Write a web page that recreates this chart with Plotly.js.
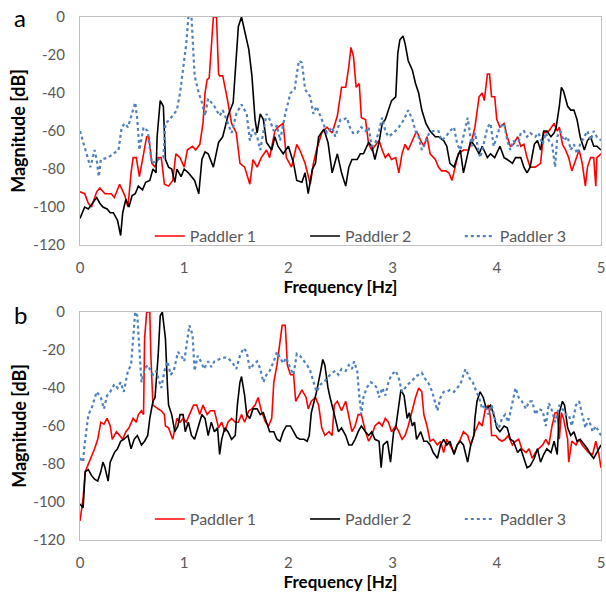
<!DOCTYPE html>
<html>
<head>
<meta charset="utf-8">
<script src="https://cdn.plot.ly/plotly-3.0.1.min.js"></script>
<style>html,body{margin:0;padding:0;background:#fff;}#chart{width:606px;height:592px;}</style>
</head>
<body>
<div id="chart"></div>
<script>
// ---------- Panel a ----------
var aP1x = [0,0.045,0.08,0.11,0.16,0.19,0.24,0.3,0.33,0.38,0.43,0.46,0.49,0.51,0.54,0.57,0.6,0.64,0.66,0.69,0.72,0.75,0.78,0.81,0.85,0.89,0.92,0.96,1.0,1.03,1.08,1.11,1.15,1.18,1.2,1.22,1.24,1.26,1.28,1.31,1.33,1.34,1.37,1.41,1.455,1.5,1.535,1.58,1.63,1.66,1.7,1.74,1.79,1.82,1.87,1.9,1.95,1.98,2.03,2.08,2.11,2.16,2.21,2.24,2.27,2.32,2.37,2.42,2.47,2.51,2.55,2.58,2.6,2.625,2.65,2.68,2.7,2.74,2.77,2.8,2.83,2.87,2.9,2.93,2.96,2.99,3.03,3.06,3.09,3.12,3.15,3.19,3.23,3.27,3.3,3.33,3.36,3.41,3.44,3.47,3.51,3.54,3.57,3.6,3.63,3.68,3.73,3.76,3.79,3.83,3.86,3.88,3.91,3.93,3.95,3.98,4.0,4.03,4.07,4.1,4.13,4.16,4.2,4.23,4.26,4.29,4.32,4.37,4.42,4.45,4.5,4.55,4.58,4.6,4.63,4.66,4.69,4.72,4.76,4.79,4.82,4.85,4.87,4.9,4.93,4.95,4.96,5.0];
var aP1y = [-92,-93,-98,-100,-92,-90,-93,-93,-95,-88,-94,-100,-82,-74,-74,-84,-75,-63,-63,-77,-79,-74,-74,-88,-89,-86,-72,-74,-79,-70,-68,-70,-67,-56,-40,-33,-32,-15,0,0,-30,-31,-31,-42,-56,-61,-77,-79,-88,-75,-79,-74,-70,-74,-60,-58,-56,-74,-79,-67,-70,-77,-88,-77,-70,-61,-58,-61,-52,-37,-37,-26,-16,-21,-37,-35,-53,-54,-67,-70,-68,-65,-70,-74,-72,-75,-74,-82,-72,-67,-70,-65,-60,-65,-68,-63,-72,-75,-79,-81,-81,-82,-86,-79,-72,-70,-70,-65,-58,-42,-40,-44,-30,-30,-42,-42,-54,-58,-56,-63,-68,-67,-63,-68,-67,-74,-79,-79,-77,-61,-60,-56,-60,-58,-67,-70,-74,-81,-74,-70,-77,-89,-79,-74,-74,-89,-74,-72];

var aP2x = [0,0.045,0.08,0.12,0.16,0.19,0.22,0.26,0.29,0.32,0.36,0.39,0.41,0.44,0.47,0.5,0.53,0.56,0.6,0.63,0.67,0.7,0.73,0.74,0.77,0.8,0.82,0.85,0.88,0.91,0.93,0.97,1.0,1.04,1.07,1.1,1.14,1.17,1.2,1.23,1.28,1.33,1.37,1.42,1.47,1.5,1.52,1.55,1.58,1.62,1.65,1.68,1.7,1.73,1.76,1.79,1.84,1.87,1.9,1.95,2.0,2.05,2.08,2.13,2.16,2.19,2.23,2.26,2.29,2.34,2.38,2.42,2.47,2.51,2.55,2.58,2.61,2.66,2.69,2.72,2.77,2.8,2.83,2.87,2.9,2.93,2.96,2.99,3.03,3.05,3.07,3.1,3.12,3.15,3.19,3.22,3.25,3.28,3.32,3.36,3.41,3.44,3.49,3.52,3.55,3.59,3.62,3.65,3.68,3.72,3.75,3.79,3.83,3.86,3.91,3.94,3.98,4.03,4.07,4.1,4.15,4.18,4.23,4.26,4.29,4.32,4.36,4.39,4.42,4.45,4.48,4.52,4.55,4.57,4.6,4.62,4.64,4.68,4.71,4.74,4.77,4.8,4.84,4.87,4.9,4.93,4.96,5.0];
var aP2y = [-106,-100,-101,-98,-95,-98,-100,-101,-103,-103,-107,-115,-103,-96,-100,-94,-93,-89,-91,-87,-86,-80,-82,-63,-44,-47,-75,-79,-80,-87,-80,-84,-80,-82,-84,-86,-93,-75,-71,-72,-79,-66,-63,-52,-45,-20,-5,0,-7,-17,-31,-54,-61,-51,-54,-66,-70,-63,-68,-72,-68,-77,-86,-87,-82,-93,-80,-77,-63,-59,-66,-82,-72,-82,-89,-79,-75,-75,-72,-72,-66,-68,-75,-66,-56,-54,-49,-44,-42,-19,-12,-10,-14,-23,-28,-35,-40,-49,-56,-60,-63,-63,-65,-68,-77,-79,-74,-70,-82,-72,-65,-68,-72,-68,-74,-72,-74,-68,-74,-75,-77,-74,-74,-79,-82,-79,-67,-65,-70,-60,-60,-63,-61,-58,-47,-37,-39,-47,-49,-49,-54,-63,-70,-65,-63,-68,-68,-70];

var aP3x = [0,0.06,0.1,0.14,0.16,0.18,0.2,0.27,0.32,0.37,0.4,0.43,0.46,0.51,0.53,0.55,0.57,0.61,0.65,0.69,0.75,0.8,0.82,0.86,0.93,0.96,0.99,1.02,1.04,1.07,1.1,1.14,1.17,1.2,1.23,1.29,1.34,1.37,1.42,1.455,1.5,1.55,1.6,1.63,1.66,1.7,1.73,1.79,1.82,1.86,1.89,1.92,1.97,2.02,2.06,2.1,2.13,2.16,2.21,2.24,2.27,2.32,2.37,2.42,2.45,2.5,2.53,2.56,2.59,2.62,2.66,2.7,2.74,2.77,2.8,2.83,2.87,2.9,2.93,2.96,3.01,3.06,3.11,3.15,3.19,3.22,3.25,3.28,3.31,3.35,3.39,3.44,3.47,3.51,3.55,3.59,3.62,3.65,3.68,3.72,3.76,3.79,3.84,3.87,3.91,3.94,3.97,4.0,4.03,4.07,4.1,4.13,4.16,4.2,4.23,4.26,4.29,4.32,4.37,4.4,4.44,4.47,4.5,4.53,4.56,4.58,4.61,4.64,4.68,4.71,4.74,4.77,4.8,4.84,4.87,4.9,4.93,4.96,5.0];
var aP3y = [-60,-72,-79,-70,-75,-84,-75,-74,-72,-70,-58,-56,-58,-49,-45,-54,-70,-58,-60,-77,-75,-74,-56,-54,-49,-40,-28,-14,0,0,-31,-40,-45,-52,-43,-47,-52,-49,-56,-61,-51,-46,-51,-65,-59,-63,-70,-51,-54,-60,-57,-65,-51,-40,-38,-23,-24,-38,-42,-51,-47,-54,-61,-58,-63,-54,-54,-53,-58,-61,-61,-58,-60,-58,-68,-67,-60,-53,-60,-63,-61,-58,-54,-49,-54,-60,-63,-70,-67,-61,-60,-60,-65,-63,-60,-58,-67,-70,-63,-53,-68,-61,-74,-68,-58,-56,-68,-63,-58,-56,-65,-70,-65,-68,-61,-60,-63,-61,-63,-61,-67,-61,-65,-67,-79,-63,-60,-65,-63,-70,-67,-72,-67,-63,-60,-65,-60,-63,-65];

// ---------- Panel b ----------
var bP1x = [0,0.03,0.05,0.08,0.11,0.14,0.17,0.2,0.23,0.26,0.29,0.31,0.35,0.38,0.41,0.44,0.47,0.51,0.54,0.56,0.59,0.61,0.62,0.64,0.67,0.68,0.7,0.75,0.78,0.81,0.82,0.85,0.89,0.93,0.96,0.99,1.02,1.05,1.09,1.12,1.15,1.18,1.22,1.25,1.29,1.33,1.36,1.39,1.42,1.455,1.49,1.52,1.55,1.58,1.62,1.65,1.68,1.71,1.74,1.78,1.81,1.84,1.86,1.89,1.92,1.94,1.97,1.99,2.02,2.05,2.07,2.1,2.13,2.17,2.19,2.22,2.26,2.29,2.32,2.35,2.39,2.42,2.44,2.47,2.51,2.55,2.58,2.61,2.64,2.67,2.7,2.74,2.77,2.8,2.83,2.87,2.9,2.93,2.96,2.99,3.03,3.06,3.09,3.12,3.15,3.19,3.22,3.25,3.28,3.3,3.33,3.36,3.39,3.43,3.46,3.49,3.52,3.55,3.59,3.62,3.65,3.68,3.72,3.75,3.79,3.83,3.86,3.89,3.92,3.94,3.95,3.99,4.02,4.05,4.08,4.11,4.15,4.18,4.21,4.24,4.28,4.31,4.34,4.37,4.4,4.44,4.47,4.5,4.53,4.56,4.58,4.6,4.62,4.64,4.68,4.69,4.72,4.76,4.79,4.82,4.85,4.88,4.92,4.95,4.98,5.0];
var bP1y = [-110,-98,-84,-80,-77,-72,-67,-58,-59,-56,-60,-67,-63,-65,-67,-63,-61,-56,-58,-54,-52,-54,-14,0,0,-23,-49,-51,-52,-54,-60,-61,-67,-56,-58,-56,-58,-54,-49,-49,-54,-49,-54,-52,-52,-61,-58,-63,-58,-56,-58,-58,-54,-58,-52,-51,-49,-45,-52,-58,-60,-56,-37,-28,-17,-7,-7,-28,-33,-33,-47,-44,-41,-45,-51,-47,-45,-49,-61,-65,-63,-65,-49,-47,-52,-47,-56,-63,-60,-54,-54,-63,-68,-65,-60,-58,-60,-56,-58,-63,-60,-63,-67,-65,-60,-51,-45,-40,-42,-54,-60,-68,-67,-70,-68,-74,-67,-70,-74,-70,-67,-63,-65,-70,-63,-58,-60,-51,-49,-56,-65,-65,-67,-68,-67,-65,-70,-68,-67,-72,-74,-72,-77,-74,-72,-70,-67,-70,-60,-53,-53,-67,-53,-56,-67,-79,-68,-70,-67,-70,-72,-74,-75,-68,-75,-82];

var bP2x = [0,0.03,0.05,0.08,0.11,0.14,0.17,0.2,0.22,0.24,0.27,0.29,0.33,0.36,0.39,0.42,0.46,0.49,0.52,0.55,0.59,0.62,0.65,0.67,0.7,0.72,0.75,0.77,0.79,0.82,0.84,0.85,0.88,0.91,0.94,0.96,0.99,1.01,1.04,1.07,1.1,1.14,1.17,1.2,1.23,1.26,1.29,1.32,1.34,1.36,1.39,1.42,1.455,1.49,1.51,1.535,1.55,1.58,1.6,1.63,1.66,1.7,1.73,1.76,1.79,1.82,1.86,1.89,1.92,1.95,1.98,2.02,2.05,2.08,2.11,2.15,2.18,2.2,2.22,2.25,2.27,2.31,2.33,2.35,2.38,2.4,2.42,2.45,2.48,2.51,2.55,2.58,2.61,2.64,2.67,2.7,2.74,2.77,2.8,2.83,2.87,2.89,2.91,2.95,2.98,3.01,3.03,3.06,3.08,3.11,3.14,3.16,3.19,3.21,3.23,3.27,3.3,3.33,3.36,3.39,3.43,3.46,3.49,3.52,3.55,3.59,3.62,3.65,3.68,3.72,3.75,3.78,3.79,3.81,3.84,3.87,3.9,3.94,3.97,4.0,4.03,4.07,4.1,4.13,4.16,4.2,4.23,4.26,4.29,4.32,4.36,4.39,4.42,4.45,4.48,4.52,4.55,4.58,4.6,4.63,4.65,4.68,4.71,4.74,4.77,4.8,4.84,4.87,4.9,4.93,4.96,5.0];
var bP2y = [-101,-103,-84,-83,-86,-88,-89,-84,-79,-82,-89,-79,-74,-72,-68,-67,-65,-72,-67,-65,-70,-68,-65,-56,-47,-45,-23,-2,0,-14,-40,-49,-54,-63,-60,-54,-54,-63,-58,-65,-67,-60,-54,-56,-65,-58,-63,-61,-75,-67,-61,-63,-67,-65,-49,-37,-34,-44,-54,-56,-51,-51,-54,-53,-58,-63,-63,-67,-68,-63,-60,-60,-63,-66,-67,-67,-68,-65,-53,-47,-42,-31,-25,-28,-40,-45,-49,-56,-63,-61,-65,-70,-70,-67,-63,-60,-63,-65,-63,-67,-68,-82,-70,-68,-79,-63,-61,-49,-41,-44,-56,-53,-60,-58,-67,-63,-68,-68,-70,-74,-77,-70,-67,-70,-68,-75,-70,-68,-70,-79,-70,-65,-56,-47,-42,-45,-51,-49,-54,-61,-63,-60,-61,-67,-68,-74,-72,-77,-82,-81,-77,-72,-79,-75,-72,-74,-68,-75,-53,-47,-49,-61,-65,-63,-68,-67,-70,-72,-75,-77,-74,-70];

var bP3x = [0,0.03,0.04,0.06,0.08,0.11,0.14,0.16,0.2,0.23,0.26,0.29,0.33,0.36,0.39,0.42,0.46,0.49,0.51,0.53,0.55,0.57,0.59,0.62,0.65,0.67,0.7,0.73,0.78,0.81,0.84,0.87,0.9,0.94,0.97,1.0,1.03,1.05,1.08,1.1,1.13,1.16,1.19,1.23,1.26,1.29,1.33,1.37,1.41,1.455,1.5,1.535,1.57,1.6,1.63,1.66,1.7,1.73,1.76,1.79,1.82,1.86,1.89,1.92,1.95,1.98,2.02,2.05,2.08,2.11,2.15,2.18,2.21,2.24,2.27,2.31,2.34,2.37,2.4,2.45,2.48,2.51,2.55,2.58,2.61,2.63,2.66,2.68,2.7,2.72,2.75,2.79,2.82,2.85,2.87,2.9,2.93,2.96,2.99,3.03,3.06,3.09,3.12,3.15,3.19,3.22,3.25,3.28,3.31,3.35,3.38,3.41,3.43,3.46,3.49,3.52,3.55,3.59,3.62,3.65,3.68,3.7,3.74,3.77,3.79,3.83,3.86,3.89,3.92,3.95,3.99,4.02,4.05,4.08,4.11,4.15,4.18,4.21,4.24,4.28,4.31,4.34,4.37,4.4,4.44,4.47,4.5,4.53,4.56,4.6,4.63,4.66,4.69,4.72,4.76,4.79,4.82,4.85,4.88,4.92,4.95,4.98,5.0];
var bP3y = [-77,-79,-72,-63,-54,-51,-45,-42,-45,-51,-44,-42,-38,-40,-37,-42,-31,-28,-14,0,-2,-19,-37,-30,-28,-30,-33,-31,-40,-31,-26,-33,-31,-21,-23,-26,-14,-7,-12,-31,-23,-26,-30,-26,-29,-26,-25,-24,-24,-26,-30,-23,-19,-21,-30,-28,-26,-30,-37,-33,-31,-26,-21,-24,-27,-24,-30,-33,-22,-23,-26,-28,-31,-37,-42,-38,-37,-35,-33,-31,-33,-30,-31,-28,-30,-26,-31,-44,-54,-45,-40,-37,-38,-40,-45,-40,-44,-37,-33,-31,-35,-42,-40,-38,-36,-34,-33,-32,-35,-38,-42,-49,-52,-45,-42,-42,-41,-42,-40,-38,-33,-30,-35,-37,-40,-45,-51,-49,-54,-49,-58,-61,-56,-54,-58,-47,-40,-45,-47,-51,-47,-47,-54,-51,-52,-60,-48,-52,-58,-49,-51,-54,-54,-60,-49,-47,-54,-61,-56,-63,-60,-63,-65];

var seriesNames = ['Paddler 1','Paddler 2','Paddler 3'];
var xTicks = [0,1,2,3,4,5];
var yTicks = [-120,-100,-80,-60,-40,-20,0];

var colors = ['#ff0000','#000000','#4f81bd'];
var dashes = ['solid','solid','dot'];
var widths = [1.6,1.6,2.2];

function mk(x,y,i,xa,ya,leg){
  return {x:x,y:y,type:'scatter',mode:'lines',name:seriesNames[i],
    line:{color:colors[i],width:widths[i],dash:dashes[i]},
    xaxis:xa,yaxis:ya,legend:leg,hoverinfo:'skip'};
}
var data = [
  mk(aP1x,aP1y,0,'x','y','legend'),
  mk(aP2x,aP2y,1,'x','y','legend2'),
  mk(aP3x,aP3y,2,'x','y','legend3'),
  mk(bP1x,bP1y,0,'x2','y2','legend4'),
  mk(bP2x,bP2y,1,'x2','y2','legend5'),
  mk(bP3x,bP3y,2,'x2','y2','legend6')
];

var FONT = 'Lato, "Open Sans", sans-serif';
function xax(anchor){
  return {anchor:anchor, range:[0,5], tickvals:xTicks, ticktext:xTicks.map(String),
    showgrid:false, zeroline:false, showline:true, mirror:true, linecolor:'#bfbfbf', linewidth:1,
    ticks:'outside', ticklen:9, tickcolor:'rgba(0,0,0,0)',
    tickfont:{family:FONT,size:15,color:'#595959'},
    title:{text:'<b>Frequency [Hz]</b>', font:{family:FONT,size:17,color:'#000'}, standoff:3}};
}
function yax(anchor,dom){
  return {anchor:anchor, domain:dom, range:[-120,0], tickvals:yTicks, ticktext:yTicks.map(String),
    showgrid:false, zeroline:false, showline:true, mirror:true, linecolor:'#bfbfbf', linewidth:1,
    ticks:'outside', ticklen:11, tickcolor:'rgba(0,0,0,0)',
    tickfont:{family:FONT,size:15,color:'#595959'},
    title:{text:'<b>Magnitude [dB]</b>', font:{family:FONT,size:18,color:'#000'}, standoff:2}};
}
// text start px targets: 189, 344, 499
var legX = [0.134, 0.432, 0.729];
function leg(x,y){
  return {orientation:'h', x:x, y:y, xanchor:'left', yanchor:'middle',
    bgcolor:'rgba(0,0,0,0)', font:{family:FONT,size:16,color:'#595959'},
    itemclick:false, itemdoubleclick:false};
}
var layout = {
  width:606, height:592, margin:{l:80,r:5,t:17,b:52},
  paper_bgcolor:'#fff', plot_bgcolor:'#fff', showlegend:true,
  xaxis:xax('y'), yaxis:yax('x',[0.564,1]),
  xaxis2:xax('y2'), yaxis2:yax('x2',[0,0.436]),
  legend:leg(legX[0],0.581), legend2:leg(legX[1],0.581), legend3:leg(legX[2],0.581),
  legend4:leg(legX[0],0.040), legend5:leg(legX[1],0.040), legend6:leg(legX[2],0.040),
  annotations:[
    {text:'a', xref:'paper', yref:'paper', x:-0.115, y:1.0, xanchor:'center', yanchor:'middle', showarrow:false, font:{family:FONT,size:24,color:'#000'}},
    {text:'b', xref:'paper', yref:'paper', x:-0.115, y:0.432, xanchor:'center', yanchor:'middle', showarrow:false, font:{family:FONT,size:24,color:'#000'}}
  ]
};
Plotly.newPlot('chart', data, layout, {displayModeBar:false, staticPlot:true});
</script>
</body>
</html>
